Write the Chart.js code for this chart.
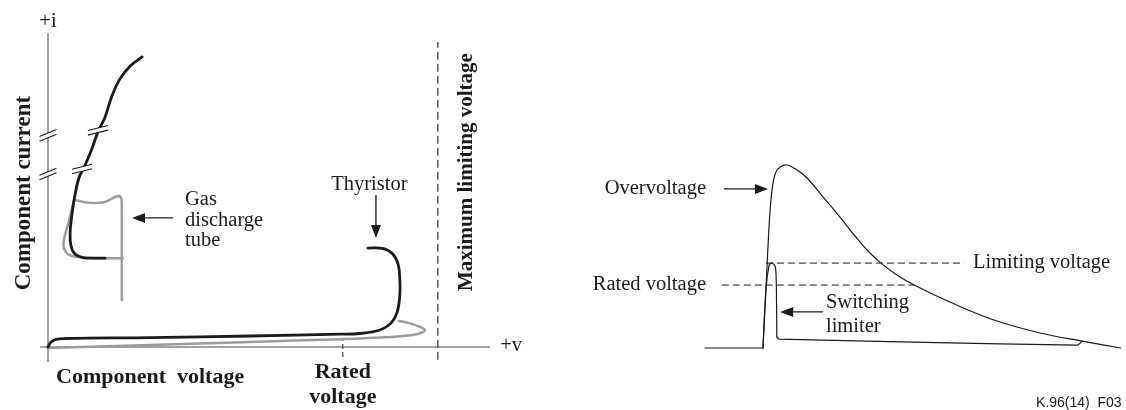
<!DOCTYPE html>
<html>
<head>
<meta charset="utf-8">
<script src="https://cdn.jsdelivr.net/npm/chart.js@4.4.1/dist/chart.umd.min.js"></script>
<style>
  body { margin: 0; background: #fff; }
  #wrap { position: relative; width: 1126px; height: 410px; }
  canvas { position: absolute; top: 0; }
</style>
</head>
<body>
<div id="wrap">
  <canvas id="viChart" width="560" height="410" style="left:0"></canvas>
  <canvas id="surgeChart" width="566" height="410" style="left:560px"></canvas>
</div>
<script>
// ---- left panel: component voltage (x) vs component current (y), arbitrary 0..100 units
const thyristorV = [0, 0.7, 1.8, 3.8, 23.1, 45.7, 66.1, 70.6, 75.1, 77.6, 79.0, 79.6, 79.6, 79.2, 77.8, 75.6, 72.4];
const thyristorI = [0, 1.6, 2.4, 2.7, 3.0, 3.5, 4.1, 4.3, 5.4, 7.6, 11.1, 16.6, 21.3, 26.4, 29.9, 31.4, 31.5];
const clampV = [0, 23.1, 45.7, 66.1, 77.4, 82.4, 84.4, 85.3, 84.2, 81.2, 79.4];
const clampI = [-0.3, 0.6, 1.6, 2.5, 3.2, 3.8, 4.5, 5.4, 6.4, 7.8, 8.3];
const gdtV = [21.3, 18.6, 16.1, 14.3, 12.9, 11.3, 10.0, 8.6, 7.0, 6.1, 5.4, 5.0, 5.2, 6.1, 7.9, 10.6, 12.9];
const gdtI = [92.4, 89.5, 85.0, 79.3, 73.2, 68.5, 63.4, 58.6, 53.8, 48.4, 42.0, 36.3, 32.2, 29.6, 28.5, 28.3, 28.3];
const glowV = [6.3, 9.5, 12.9, 14.9, 16.1, 16.6, 16.7, 16.7, 16.7];
const glowI = [46.7, 45.9, 46.2, 47.6, 48.1, 47.1, 43.6, 30.9, 15.0];
const arcV = [7.0, 5.9, 4.5, 3.6, 3.6, 4.5, 6.3, 10.6, 16.9];
const arcI = [54.5, 46.8, 38.9, 34.1, 31.5, 29.6, 28.7, 28.3, 28.3];
const maxLimitingV = 88.2;
const ratedV = 66.7;
const axisBreaksI = [67.4, 55.1];
const curveBreaks = [[11.3, 69.0], [7.7, 56.7]];

// ---- right panel: time (x) vs voltage (y), 0..100 units
const baseT = [0, 13.8];
const baseU = [0, 0];
const surgeT = [13.8, 14.5, 15.2, 15.7, 16.2, 16.9, 17.9, 19.5, 21.9, 24.3, 28.3, 32.1, 35.7, 38.8, 41.9, 45.7, 49.8, 58.3, 68.8, 79.8, 89.8, 99.0];
const surgeU = [0, 31.7, 64.5, 80.9, 90.2, 96.2, 98.9, 100, 97.3, 92.9, 82.0, 71.6, 61.2, 53.0, 46.4, 39.9, 34.4, 25.1, 15.3, 8.2, 3.8, 0];
const spikeT = [13.8, 14.5, 15.2, 15.7, 16.3, 16.8, 17.0, 17.1];
const spikeU = [0, 31.7, 44.8, 46.4, 45.9, 43.7, 31.7, 6.0];
const tailT = [17.1, 17.6, 46.4, 70.2, 88.8, 89.8];
const tailU = [6.0, 4.9, 3.3, 2.2, 1.6, 3.8];
const limitingLevel = 46.4;
const ratedLevel = 34.4;

const pts = (xs, ys) => xs.map((x, i) => ({ x, y: ys[i] }));
const SERIF = '"Liberation Serif", "Times New Roman", serif';
const INK = '#1b1b1b';
const GRAY = '#9c9c9c';

function line(data, color, width, extra) {
  return Object.assign({
    data, showLine: true, borderColor: color, borderWidth: width,
    pointRadius: 0, tension: 0.4, clip: false, fill: false,
    capBezierPoints: false, borderCapStyle: 'round', borderJoinStyle: 'round'
  }, extra || {});
}

function toPx(chart, x, y) {
  return [chart.scales.x.getPixelForValue(x), chart.scales.y.getPixelForValue(y)];
}

function arrow(ctx, a, b) {
  const ang = Math.atan2(b[1] - a[1], b[0] - a[0]);
  ctx.beginPath();
  ctx.moveTo(a[0], a[1]);
  ctx.lineTo(b[0] - 10 * Math.cos(ang), b[1] - 10 * Math.sin(ang));
  ctx.stroke();
  ctx.save();
  ctx.translate(b[0], b[1]);
  ctx.rotate(ang);
  ctx.beginPath();
  ctx.moveTo(0, 0);
  ctx.lineTo(-13, -5);
  ctx.lineTo(-13, 5);
  ctx.closePath();
  ctx.fill();
  ctx.restore();
}

function labels(chart, list) {
  const ctx = chart.ctx;
  ctx.save();
  ctx.fillStyle = INK;
  ctx.textBaseline = 'middle';
  list.forEach(l => {
    const p = toPx(chart, l.x, l.y);
    ctx.font = l.font;
    ctx.textAlign = l.align || 'center';
    ctx.save();
    ctx.translate(p[0], p[1]);
    if (l.rotate) ctx.rotate(-Math.PI / 2);
    ctx.fillText(l.text, 0, 0);
    ctx.restore();
  });
  ctx.restore();
}

function breakMark(ctx, c, hx, hy) {
  const g = 2.3;
  ctx.fillStyle = '#fff';
  ctx.beginPath();
  ctx.moveTo(c[0] - hx, c[1] + hy - g);
  ctx.lineTo(c[0] + hx, c[1] - hy - g);
  ctx.lineTo(c[0] + hx, c[1] - hy + g);
  ctx.lineTo(c[0] - hx, c[1] + hy + g);
  ctx.closePath();
  ctx.fill();
  ctx.strokeStyle = INK;
  ctx.lineWidth = 1.1;
  [-g, g].forEach(s => {
    ctx.beginPath();
    ctx.moveTo(c[0] - hx, c[1] + hy + s);
    ctx.lineTo(c[0] + hx, c[1] - hy + s);
    ctx.stroke();
  });
}

const viDecor = {
  id: 'viDecor',
  beforeDatasetsDraw(chart) {
    const ctx = chart.ctx;
    ctx.save();
    ctx.strokeStyle = '#444';
    ctx.lineWidth = 1;
    let a = toPx(chart, 0, -4.8), b = toPx(chart, 0, 100);
    ctx.beginPath(); ctx.moveTo(a[0], a[1]); ctx.lineTo(b[0], b[1]); ctx.stroke();
    a = toPx(chart, -1.8, 0); b = toPx(chart, 100, 0);
    ctx.beginPath(); ctx.moveTo(a[0], a[1]); ctx.lineTo(b[0], b[1]); ctx.stroke();
    ctx.restore();
  },
  afterDatasetsDraw(chart) {
    const ctx = chart.ctx;
    ctx.save();
    axisBreaksI.forEach(i => breakMark(ctx, toPx(chart, 0, i), 8.5, 3.5));
    curveBreaks.forEach(p => breakMark(ctx, toPx(chart, p[0], p[1]), 10, 2.5));
    ctx.strokeStyle = INK;
    ctx.fillStyle = INK;
    ctx.lineWidth = 1.3;
    arrow(ctx, toPx(chart, 28.3, 41.1), toPx(chart, 19.0, 41.1));
    arrow(ctx, toPx(chart, 74.2, 48.4), toPx(chart, 74.2, 34.7));
    ctx.restore();
    const B = 'bold 22px ' + SERIF, R = '20.5px ' + SERIF;
    labels(chart, [
      { text: '+i', x: 0, y: 103.5, font: R },
      { text: '+v', x: 102.3, y: 0.3, font: R, align: 'left' },
      { text: 'Component current', x: -5.4, y: 49.0, font: 'bold 23px ' + SERIF, rotate: true },
      { text: 'Maximum limiting voltage', x: 94.6, y: 55.7, font: 'bold 21px ' + SERIF, rotate: true },
      { text: 'Component  voltage', x: 23.1, y: -9.6, font: B },
      { text: 'Rated', x: ratedV, y: -8.0, font: B },
      { text: 'voltage', x: ratedV, y: -16.0, font: B },
      { text: 'Thyristor', x: 72.7, y: 51.6, font: R },
      { text: 'Gas', x: 31.0, y: 46.8, font: R, align: 'left' },
      { text: 'discharge', x: 31.0, y: 40.3, font: R, align: 'left' },
      { text: 'tube', x: 31.0, y: 33.8, font: R, align: 'left' }
    ]);
  }
};

const surgeDecor = {
  id: 'surgeDecor',
  afterDatasetsDraw(chart) {
    const ctx = chart.ctx;
    ctx.save();
    ctx.strokeStyle = INK;
    ctx.fillStyle = INK;
    ctx.lineWidth = 1.3;
    arrow(ctx, toPx(chart, 4.5, 86.9), toPx(chart, 15.0, 86.9));
    arrow(ctx, toPx(chart, 28.1, 19.7), toPx(chart, 17.9, 19.7));
    ctx.restore();
    const R = '20.5px ' + SERIF;
    labels(chart, [
      { text: 'Overvoltage', x: 0.24, y: 86.9, font: R, align: 'right' },
      { text: 'Limiting voltage', x: 63.8, y: limitingLevel, font: R, align: 'left' },
      { text: 'Rated voltage', x: 0.24, y: ratedLevel, font: R, align: 'right' },
      { text: 'Switching', x: 28.8, y: 24.6, font: R, align: 'left' },
      { text: 'limiter', x: 28.8, y: 11.5, font: R, align: 'left' },
      { text: 'K.96(14)  F03', x: 99.2, y: -30.0, font: '14px "Liberation Sans", Arial, sans-serif', align: 'right' }
    ]);
  }
};

const baseOptions = (padding) => ({
  responsive: false,
  animation: false,
  layout: { padding },
  plugins: { legend: { display: false }, tooltip: { enabled: false } },
  elements: { line: { capBezierPoints: false } },
  scales: {
    x: { type: 'linear', min: 0, max: 100, display: false },
    y: { type: 'linear', min: 0, max: 100, display: false }
  }
});

new Chart(document.getElementById('viChart'), {
  type: 'scatter',
  data: {
    datasets: [
      line(pts(thyristorV, thyristorI), INK, 2.8),
      line(pts(gdtV, gdtI), INK, 2.8),
      line(pts(clampV, clampI), GRAY, 2.5),
      line(pts(glowV, glowI), GRAY, 2.5, { tension: 0.3 }),
      line(pts(arcV, arcI), GRAY, 2.5),
      line([{ x: maxLimitingV, y: -4.1 }, { x: maxLimitingV, y: 97.1 }], '#333', 1.2, { tension: 0, borderDash: [8, 4], borderCapStyle: 'butt' }),
      line([{ x: ratedV, y: -3.2 }, { x: ratedV, y: 2.2 }], '#444', 1.2, { tension: 0, borderDash: [5, 3], borderCapStyle: 'butt' })
    ]
  },
  options: baseOptions({ left: 48, right: 70, top: 33, bottom: 63 }),
  plugins: [viDecor]
});

new Chart(document.getElementById('surgeChart'), {
  type: 'scatter',
  data: {
    datasets: [
      line(pts(baseT, baseU), INK, 1.2, { tension: 0 }),
      line(pts(surgeT, surgeU), INK, 1.2),
      line(pts(spikeT, spikeU), INK, 1.2, { tension: 0.3 }),
      line(pts(tailT, tailU), INK, 1.2, { tension: 0 }),
      line([{ x: 14.5, y: limitingLevel }, { x: 61.7, y: limitingLevel }], INK, 1, { tension: 0, borderDash: [7, 4], borderCapStyle: 'butt' }),
      line([{ x: 4.0, y: ratedLevel }, { x: 49.8, y: ratedLevel }], INK, 1, { tension: 0, borderDash: [7, 4], borderCapStyle: 'butt' })
    ]
  },
  options: baseOptions({ left: 145, right: 1, top: 165, bottom: 62 }),
  plugins: [surgeDecor]
});
</script>
</body>
</html>
